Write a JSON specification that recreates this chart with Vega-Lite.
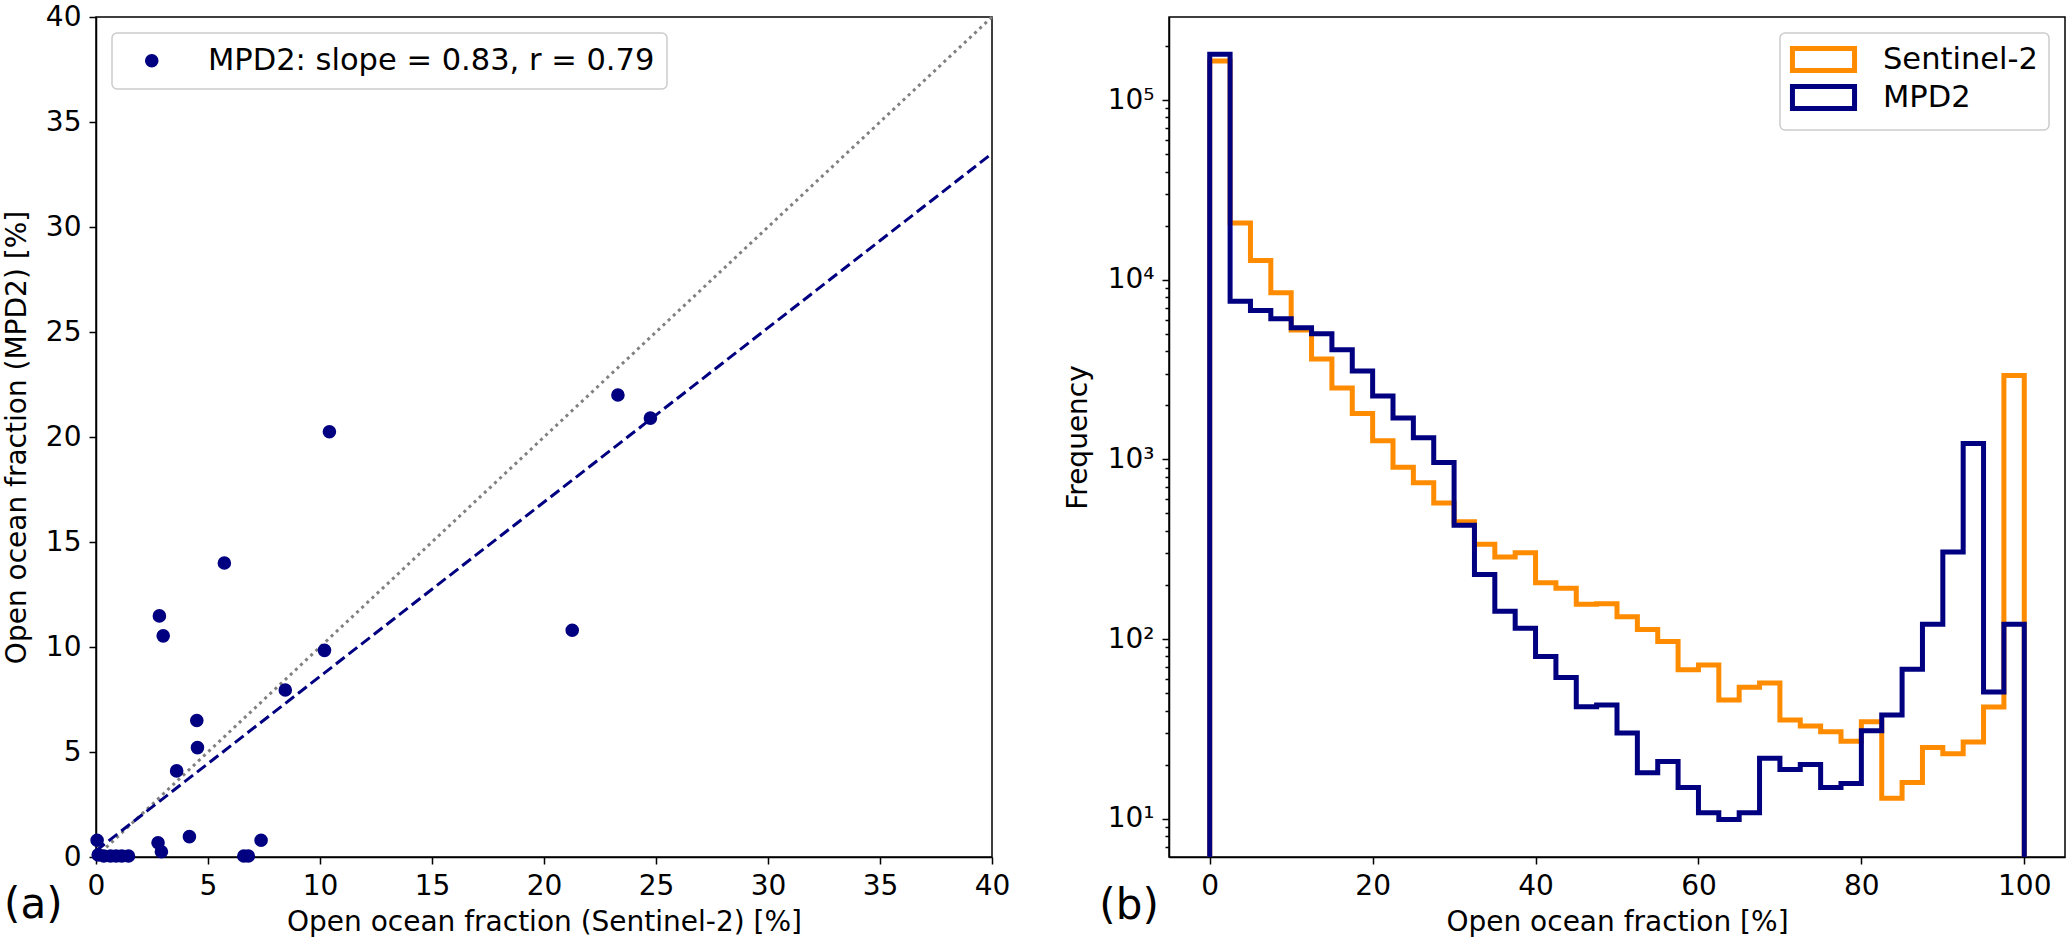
{
  "$schema": "https://vega.github.io/schema/vega-lite/v6.json",
  "padding": {"left": 2, "top": 2, "right": 0, "bottom": 0},
  "autosize": {"type": "pad"},
  "bounds": "flush",
  "spacing": 177,
  "datasets": {
    "pts": [
      {"s2": 0.05, "mpd2": 0.8},
      {"s2": 0.1, "mpd2": 0.1},
      {"s2": 0.35, "mpd2": 0.05},
      {"s2": 0.65, "mpd2": 0.05},
      {"s2": 0.9, "mpd2": 0.05},
      {"s2": 1.15, "mpd2": 0.05},
      {"s2": 1.45, "mpd2": 0.05},
      {"s2": 2.77, "mpd2": 0.68},
      {"s2": 2.92, "mpd2": 0.25},
      {"s2": 2.83, "mpd2": 11.48},
      {"s2": 3.0, "mpd2": 10.53},
      {"s2": 3.6, "mpd2": 4.1},
      {"s2": 4.17, "mpd2": 0.97},
      {"s2": 4.5, "mpd2": 6.5},
      {"s2": 4.53, "mpd2": 5.21},
      {"s2": 5.73, "mpd2": 14.0},
      {"s2": 6.6, "mpd2": 0.05},
      {"s2": 6.8, "mpd2": 0.05},
      {"s2": 7.37, "mpd2": 0.8},
      {"s2": 8.45, "mpd2": 7.95},
      {"s2": 10.2, "mpd2": 9.84},
      {"s2": 10.42, "mpd2": 20.25},
      {"s2": 21.26, "mpd2": 10.8},
      {"s2": 23.3, "mpd2": 22.0},
      {"s2": 24.75, "mpd2": 20.9}
    ],
    "hist": [
      {"series": "Sentinel-2", "order": 0, "x": 0, "count": 1},
      {"series": "Sentinel-2", "order": 1, "x": 0, "count": 165000},
      {"series": "Sentinel-2", "order": 2, "x": 2.5, "count": 20700},
      {"series": "Sentinel-2", "order": 3, "x": 5, "count": 12800},
      {"series": "Sentinel-2", "order": 4, "x": 7.5, "count": 8450},
      {"series": "Sentinel-2", "order": 5, "x": 10, "count": 5250},
      {"series": "Sentinel-2", "order": 6, "x": 12.5, "count": 3620},
      {"series": "Sentinel-2", "order": 7, "x": 15, "count": 2500},
      {"series": "Sentinel-2", "order": 8, "x": 17.5, "count": 1800},
      {"series": "Sentinel-2", "order": 9, "x": 20, "count": 1270},
      {"series": "Sentinel-2", "order": 10, "x": 22.5, "count": 905},
      {"series": "Sentinel-2", "order": 11, "x": 25, "count": 740},
      {"series": "Sentinel-2", "order": 12, "x": 27.5, "count": 572},
      {"series": "Sentinel-2", "order": 13, "x": 30, "count": 450},
      {"series": "Sentinel-2", "order": 14, "x": 32.5, "count": 337},
      {"series": "Sentinel-2", "order": 15, "x": 35, "count": 286},
      {"series": "Sentinel-2", "order": 16, "x": 37.5, "count": 302},
      {"series": "Sentinel-2", "order": 17, "x": 40, "count": 206},
      {"series": "Sentinel-2", "order": 18, "x": 42.5, "count": 192},
      {"series": "Sentinel-2", "order": 19, "x": 45, "count": 156},
      {"series": "Sentinel-2", "order": 20, "x": 47.5, "count": 157},
      {"series": "Sentinel-2", "order": 21, "x": 50, "count": 133},
      {"series": "Sentinel-2", "order": 22, "x": 52.5, "count": 113},
      {"series": "Sentinel-2", "order": 23, "x": 55, "count": 97},
      {"series": "Sentinel-2", "order": 24, "x": 57.5, "count": 67.5},
      {"series": "Sentinel-2", "order": 25, "x": 60, "count": 71.6},
      {"series": "Sentinel-2", "order": 26, "x": 62.5, "count": 45.8},
      {"series": "Sentinel-2", "order": 27, "x": 65, "count": 53.9},
      {"series": "Sentinel-2", "order": 28, "x": 67.5, "count": 56.9},
      {"series": "Sentinel-2", "order": 29, "x": 70, "count": 35.4},
      {"series": "Sentinel-2", "order": 30, "x": 72.5, "count": 32.8},
      {"series": "Sentinel-2", "order": 31, "x": 75, "count": 30.5},
      {"series": "Sentinel-2", "order": 32, "x": 77.5, "count": 27},
      {"series": "Sentinel-2", "order": 33, "x": 80, "count": 34.6},
      {"series": "Sentinel-2", "order": 34, "x": 82.5, "count": 13},
      {"series": "Sentinel-2", "order": 35, "x": 85, "count": 15.9},
      {"series": "Sentinel-2", "order": 36, "x": 87.5, "count": 24.9},
      {"series": "Sentinel-2", "order": 37, "x": 90, "count": 23},
      {"series": "Sentinel-2", "order": 38, "x": 92.5, "count": 26.7},
      {"series": "Sentinel-2", "order": 39, "x": 95, "count": 41.9},
      {"series": "Sentinel-2", "order": 40, "x": 97.5, "count": 2930},
      {"series": "Sentinel-2", "order": 41, "x": 100, "count": 2930},
      {"series": "Sentinel-2", "order": 42, "x": 100, "count": 1},
      {"series": "MPD2", "order": 0, "x": 0, "count": 1},
      {"series": "MPD2", "order": 1, "x": 0, "count": 180000},
      {"series": "MPD2", "order": 2, "x": 2.5, "count": 7600},
      {"series": "MPD2", "order": 3, "x": 5, "count": 6730},
      {"series": "MPD2", "order": 4, "x": 7.5, "count": 6060},
      {"series": "MPD2", "order": 5, "x": 10, "count": 5400},
      {"series": "MPD2", "order": 6, "x": 12.5, "count": 5000},
      {"series": "MPD2", "order": 7, "x": 15, "count": 4080},
      {"series": "MPD2", "order": 8, "x": 17.5, "count": 3100},
      {"series": "MPD2", "order": 9, "x": 20, "count": 2250},
      {"series": "MPD2", "order": 10, "x": 22.5, "count": 1700},
      {"series": "MPD2", "order": 11, "x": 25, "count": 1318},
      {"series": "MPD2", "order": 12, "x": 27.5, "count": 960},
      {"series": "MPD2", "order": 13, "x": 30, "count": 430},
      {"series": "MPD2", "order": 14, "x": 32.5, "count": 229},
      {"series": "MPD2", "order": 15, "x": 35, "count": 143},
      {"series": "MPD2", "order": 16, "x": 37.5, "count": 115},
      {"series": "MPD2", "order": 17, "x": 40, "count": 80},
      {"series": "MPD2", "order": 18, "x": 42.5, "count": 61},
      {"series": "MPD2", "order": 19, "x": 45, "count": 42},
      {"series": "MPD2", "order": 20, "x": 47.5, "count": 43},
      {"series": "MPD2", "order": 21, "x": 50, "count": 30},
      {"series": "MPD2", "order": 22, "x": 52.5, "count": 18},
      {"series": "MPD2", "order": 23, "x": 55, "count": 20.8},
      {"series": "MPD2", "order": 24, "x": 57.5, "count": 14.9},
      {"series": "MPD2", "order": 25, "x": 60, "count": 10.8},
      {"series": "MPD2", "order": 26, "x": 62.5, "count": 9.9},
      {"series": "MPD2", "order": 27, "x": 65, "count": 10.8},
      {"series": "MPD2", "order": 28, "x": 67.5, "count": 21.7},
      {"series": "MPD2", "order": 29, "x": 70, "count": 18.8},
      {"series": "MPD2", "order": 30, "x": 72.5, "count": 20},
      {"series": "MPD2", "order": 31, "x": 75, "count": 14.9},
      {"series": "MPD2", "order": 32, "x": 77.5, "count": 15.7},
      {"series": "MPD2", "order": 33, "x": 80, "count": 30.9},
      {"series": "MPD2", "order": 34, "x": 82.5, "count": 37.8},
      {"series": "MPD2", "order": 35, "x": 85, "count": 68},
      {"series": "MPD2", "order": 36, "x": 87.5, "count": 121},
      {"series": "MPD2", "order": 37, "x": 90, "count": 305},
      {"series": "MPD2", "order": 38, "x": 92.5, "count": 1225},
      {"series": "MPD2", "order": 39, "x": 95, "count": 50.8},
      {"series": "MPD2", "order": 40, "x": 97.5, "count": 121},
      {"series": "MPD2", "order": 41, "x": 100, "count": 121},
      {"series": "MPD2", "order": 42, "x": 100, "count": 1}
    ]
  },
  "hconcat": [
    {
      "width": 896,
      "height": 840,
      "encoding": {
        "x": {
          "type": "quantitative",
          "scale": {"domain": [0, 40], "nice": false},
          "axis": {"values": [0, 5, 10, 15, 20, 25, 30, 35, 40], "title": "Open ocean fraction (Sentinel-2) [%]"}
        },
        "y": {
          "type": "quantitative",
          "scale": {"domain": [0, 40], "nice": false},
          "axis": {"values": [0, 5, 10, 15, 20, 25, 30, 35, 40], "title": "Open ocean fraction (MPD2) [%]", "titlePadding": 14}
        }
      },
      "layer": [
        {
          "data": {"values": [{"a": 0, "b": 0}, {"a": 40, "b": 40}]},
          "mark": {"type": "line", "color": "#808080", "strokeWidth": 3, "strokeDash": [3, 4]},
          "encoding": {"x": {"field": "a", "type": "quantitative"}, "y": {"field": "b", "type": "quantitative"}}
        },
        {
          "data": {"values": [{"a": 0, "b": 0.3}, {"a": 40, "b": 33.5}]},
          "mark": {"type": "line", "color": "#000080", "strokeWidth": 3, "strokeDash": [11, 5]},
          "encoding": {"x": {"field": "a", "type": "quantitative"}, "y": {"field": "b", "type": "quantitative"}}
        },
        {
          "data": {"name": "pts"},
          "mark": {"type": "circle", "size": 185, "opacity": 1},
          "encoding": {
            "x": {"field": "s2", "type": "quantitative"},
            "y": {"field": "mpd2", "type": "quantitative"},
            "color": {
              "datum": "MPD2: slope = 0.83, r = 0.79",
              "scale": {"range": ["#000080"]},
              "legend": {
                "title": null,
                "orient": "top-left",
                "offset": 16,
                "padding": 12.5,
                "symbolType": "circle",
                "symbolSize": 185,
                "symbolOffset": 12,
                "labelOffset": 41,
                "labelLimit": 0,
                "labelFontSize": 30.5
              }
            }
          }
        },
        {
          "data": {"values": [{"panel": "(a)"}]},
          "mark": {"type": "text", "fontSize": 42, "align": "center", "baseline": "middle", "color": "black"},
          "encoding": {
            "text": {"field": "panel"},
            "x": {"datum": -2.8, "type": "quantitative"},
            "y": {"datum": -2.3, "type": "quantitative"}
          }
        }
      ]
    },
    {
      "width": 896,
      "height": 840,
      "encoding": {
        "x": {
          "type": "quantitative",
          "scale": {"domain": [-5, 105], "nice": false, "zero": false},
          "axis": {"values": [0, 20, 40, 60, 80, 100], "title": "Open ocean fraction [%]"}
        },
        "y": {
          "type": "quantitative",
          "scale": {"type": "log", "domain": [6.12, 290000], "nice": false},
          "axis": {
            "title": "Frequency",
            "titlePadding": 15,
            "values": [7, 8, 9, 10, 20, 30, 40, 50, 60, 70, 80, 90, 100, 200, 300, 400, 500, 600, 700, 800, 900, 1000, 2000, 3000, 4000, 5000, 6000, 7000, 8000, 9000, 10000, 20000, 30000, 40000, 50000, 60000, 70000, 80000, 90000, 100000, 200000],
            "labelExpr": "abs(log(datum.value) / LN10 - round(log(datum.value) / LN10)) < 0.001 ? '10' + ['⁰', '¹', '²', '³', '⁴', '⁵', '⁶'][round(log(datum.value) / LN10)] : ''",
            "tickSize": {"condition": {"test": "abs(log(datum.value) / LN10 - round(log(datum.value) / LN10)) < 0.001", "value": 7}, "value": 4}
          }
        }
      },
      "layer": [
        {
          "data": {"name": "hist"},
          "transform": [{"filter": "datum.series === 'Sentinel-2'"}],
          "mark": {"type": "line", "interpolate": "step-after", "strokeWidth": 5, "clip": true, "strokeJoin": "miter"},
          "encoding": {
            "x": {"field": "x"},
            "y": {"field": "count"},
            "order": {"field": "order", "type": "quantitative"},
            "color": {
              "field": "series",
              "type": "nominal",
              "scale": {"domain": ["Sentinel-2", "MPD2"], "range": ["#ff8c00", "#000080"]},
              "legend": {
                "title": null,
                "orient": "top-right",
                "offset": 16,
                "padding": 10.5,
                "symbolType": "M-2.3,-0.815H2.3V0.815H-2.3Z",
                "symbolSize": 729,
                "symbolStrokeWidth": 5,
                "symbolFillColor": "white",
                "symbolOffset": 17,
                "labelOffset": 43.5,
                "rowPadding": -6,
                "labelFontSize": 30.5
              }
            }
          }
        },
        {
          "data": {"name": "hist"},
          "transform": [{"filter": "datum.series === 'MPD2'"}],
          "mark": {"type": "line", "interpolate": "step-after", "strokeWidth": 5, "clip": true, "strokeJoin": "miter"},
          "encoding": {
            "x": {"field": "x"},
            "y": {"field": "count"},
            "order": {"field": "order", "type": "quantitative"},
            "color": {"field": "series", "type": "nominal"}
          }
        },
        {
          "data": {"values": [{"panel": "(b)"}]},
          "mark": {"type": "text", "fontSize": 42, "align": "center", "baseline": "middle", "color": "black"},
          "encoding": {
            "text": {"field": "panel"},
            "x": {"datum": -9.9, "type": "quantitative"},
            "y": {"datum": 3.27, "type": "quantitative"}
          }
        }
      ]
    }
  ],
  "resolve": {"scale": {"color": "independent"}, "legend": {"color": "independent"}},
  "config": {
    "font": "DejaVu Sans",
    "view": {"stroke": "black", "strokeWidth": 1.5},
    "axis": {
      "grid": false,
      "domainColor": "black",
      "domainWidth": 1.5,
      "tickColor": "black",
      "tickWidth": 1.5,
      "tickSize": 7,
      "labelFontSize": 28,
      "labelColor": "black",
      "labelPadding": 8,
      "labelFlush": false,
      "labelOverlap": false,
      "titleFontSize": 28,
      "titleFontWeight": "normal",
      "titleColor": "black",
      "titlePadding": 8
    },
    "legend": {
      "strokeColor": "#cccccc",
      "strokeWidth": 1.5,
      "cornerRadius": 5,
      "fillColor": "rgba(255,255,255,0.8)",
      "labelColor": "black",
      "labelFont": "DejaVu Sans"
    }
  }
}
